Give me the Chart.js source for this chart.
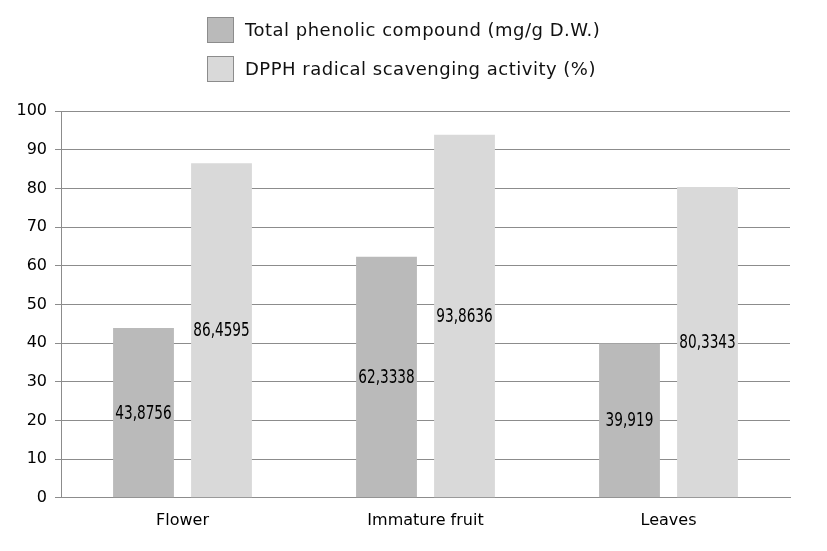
<!DOCTYPE html>
<html>
<head>
<meta charset="utf-8">
<script src="https://cdn.jsdelivr.net/npm/chart.js@4"></script>
<style>
  html, body { margin: 0; padding: 0; background: #fff; }
  #wrap { width: 827px; height: 551px; position: relative; }
</style>
</head>
<body>
<div id="wrap"><canvas id="barChart" width="827" height="551"></canvas></div>
<script>
// ===== data =====
const categories = ["Flower", "Immature fruit", "Leaves"];
const phenolic = [43.8756, 62.3338, 39.919];
const dpph = [86.4595, 93.8636, 80.3343];
const seriesNames = ["Total phenolic compound (mg/g D.W.)", "DPPH radical scavenging activity (%)"];
const seriesColors = ["#bababa", "#d9d9d9"];

// comma as decimal mark, like the source
function fmt(v) {
  return String(v).replace(".", ",");
}

// legend stacked in two rows above the plot
const stackedLegend = {
  id: "stackedLegend",
  afterDraw(chart) {
    const ctx = chart.ctx;
    ctx.save();
    ctx.font = "18px 'DejaVu Sans'";
    ctx.letterSpacing = "0.5px";
    ctx.textBaseline = "middle";
    chart.data.datasets.forEach((ds, i) => {
      const y = 17 + i * 39;
      ctx.fillStyle = ds.backgroundColor;
      ctx.fillRect(207, y, 27, 26);
      ctx.strokeStyle = "#8c8c8c";
      ctx.lineWidth = 1;
      ctx.strokeRect(207.5, y + 0.5, 26, 25);
      ctx.fillStyle = "#111";
      ctx.fillText(ds.label, 245, y + 14);
    });
    ctx.restore();
  }
};

// value in the middle of each bar, narrow digits
const barValues = {
  id: "barValues",
  afterDatasetsDraw(chart) {
    const ctx = chart.ctx;
    const sx = 0.8;
    ctx.save();
    ctx.font = "19px 'DejaVu Sans Condensed', 'DejaVu Sans'";
    ctx.fillStyle = "#000";
    ctx.textAlign = "center";
    ctx.textBaseline = "middle";
    ctx.scale(sx, 1);
    chart.data.datasets.forEach((ds, i) => {
      chart.getDatasetMeta(i).data.forEach((bar, j) => {
        const mid = (bar.y + bar.base) / 2;
        ctx.fillText(fmt(ds.data[j]), bar.x / sx, mid + 1);
      });
    });
    ctx.restore();
  }
};

new Chart(document.getElementById("barChart"), {
  type: "bar",
  data: {
    labels: categories,
    datasets: [
      { label: seriesNames[0], data: phenolic, backgroundColor: seriesColors[0] },
      { label: seriesNames[1], data: dpph, backgroundColor: seriesColors[1] }
    ]
  },
  options: {
    responsive: false,
    animation: false,
    categoryPercentage: 0.642,
    barPercentage: 0.78,
    layout: { padding: { top: 111, right: 37, bottom: 16, left: 0 } },
    plugins: {
      legend: { display: false },
      tooltip: { enabled: false }
    },
    scales: {
      x: {
        grid: { display: false },
        border: { display: true, color: "#8c8c8c" },
        ticks: { color: "#000", font: { family: "DejaVu Sans", size: 16 }, padding: 5 }
      },
      y: {
        min: 0,
        max: 100,
        afterFit(scale) { scale.width = 61; },
        ticks: { stepSize: 10, color: "#000", font: { family: "DejaVu Sans", size: 16 }, padding: 8 },
        grid: { color: "#8c8c8c", tickLength: 6, drawTicks: true },
        border: { display: true, color: "#8c8c8c" }
      }
    }
  },
  plugins: [barValues, stackedLegend]
});
</script>
</body>
</html>
